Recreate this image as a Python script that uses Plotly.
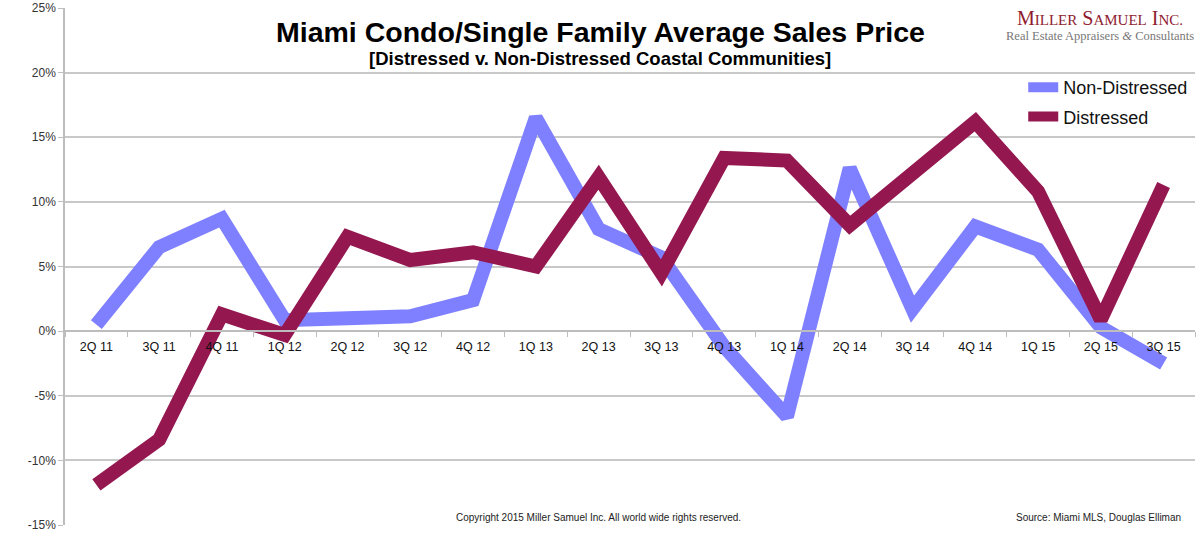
import plotly.graph_objects as go

quarters = ["2Q 11", "3Q 11", "4Q 11", "1Q 12", "2Q 12", "3Q 12", "4Q 12", "1Q 13", "2Q 13",
            "3Q 13", "4Q 13", "1Q 14", "2Q 14", "3Q 14", "4Q 14", "1Q 15", "2Q 15", "3Q 15"]
non_distressed = [0.5, 6.5, 8.7, 0.85, 1.0, 1.15, 2.4, 16.5, 7.9,
                  5.7, -1.2, -6.6, 12.6, 1.7, 8.1, 6.3, 0.3, -2.5]
distressed = [-11.9, -8.4, 1.3, -0.3, 7.3, 5.5, 6.1, 5.0, 11.9,
              4.5, 13.4, 13.2, 8.2, 12.1, 16.2, 10.8, 0.9, 11.3]
y_tick_vals = [-15, -10, -5, 0, 5, 10, 15, 20, 25]
y_tick_labels = ["-15%", "-10%", "-5%", "0%", "5%", "10%", "15%", "20%", "25%"]

BLUE = "#7F80FF"
MAROON = "#941750"
FONT = "Liberation Sans, Arial, sans-serif"

fig = go.Figure()
fig.add_trace(go.Scatter(x=quarters, y=non_distressed, mode="lines", name="Non-Distressed",
                         legendgroup="a",
                         line=dict(color=BLUE, width=14)))
fig.add_trace(go.Scatter(x=quarters, y=distressed, mode="lines", name="Distressed",
                         legendgroup="b",
                         line=dict(color=MAROON, width=14)))

fig.update_layout(
    width=1200, height=553,
    margin=dict(l=65, r=5, t=8, b=28, autoexpand=False),
    paper_bgcolor="white", plot_bgcolor="white",
    font=dict(family=FONT, color="#222"),
    showlegend=True,
    legend=dict(x=0.848, y=0.882, xanchor="left", yanchor="top",
                font=dict(size=18, color="#111", family=FONT),
                bgcolor="rgba(0,0,0,0)", tracegroupgap=3, itemwidth=30),
    xaxis=dict(type="category", anchor="free", position=0.375, automargin=False,
               showline=True, linecolor="#BDBDBD", linewidth=1.5,
               ticks="outside", tickson="boundaries", ticklen=5, tickcolor="#BDBDBD",
               showgrid=False, zeroline=False, ticklabelstandoff=4,
               tickfont=dict(size=12.5, color="#111", family=FONT),
               range=[-0.5, 17.5]),
    yaxis=dict(range=[-15, 25], tickvals=y_tick_vals, ticktext=y_tick_labels, automargin=False,
               showgrid=True, gridcolor="#C8C8C8", gridwidth=1.5,
               showline=True, linecolor="#BDBDBD", linewidth=1.5,
               ticks="outside", ticklen=5, tickcolor="#BDBDBD",
               zeroline=False,
               tickfont=dict(size=12, color="#333", family=FONT)),
)

annotations = [
    dict(text="<b>Miami Condo/Single Family Average Sales Price</b>", x=600, y=32,
         font=dict(size=28.5, family=FONT, color="#000")),
    dict(text="<b>[Distressed v. Non-Distressed Coastal Communities]</b>", x=600, y=58,
         font=dict(size=18.5, family=FONT, color="#000")),
    dict(text="M<span style='font-size:15px'>ILLER</span> S<span style='font-size:15px'>AMUEL</span> "
              "I<span style='font-size:15px'>NC.</span>",
         x=1100, y=18, font=dict(size=20, family="Liberation Serif, Times New Roman, serif", color="#8E1B2E")),
    dict(text="Real Estate Appraisers <i>&amp;</i> Consultants", x=1100, y=36,
         font=dict(size=12.5, family="Liberation Serif, Times New Roman, serif", color="#777")),
    dict(text="Copyright 2015 Miller Samuel Inc. All world wide rights reserved.", x=598, y=517,
         font=dict(size=10, family=FONT, color="#222")),
    dict(text="Source: Miami MLS, Douglas Elliman", x=1183, y=517, xanchor="right",
         font=dict(size=10, family=FONT, color="#222")),
]
for a in annotations:
    px, py = a.pop("x"), a.pop("y")
    fig.add_annotation(x=(px - 65) / 1130, y=(525 - py) / 517, xref="paper", yref="paper",
                       showarrow=False, xanchor=a.pop("xanchor", "center"), yanchor="middle", **a)

fig.write_html("out.html", config={"displayModeBar": False},
               post_script="document.body.style.margin='0';")
